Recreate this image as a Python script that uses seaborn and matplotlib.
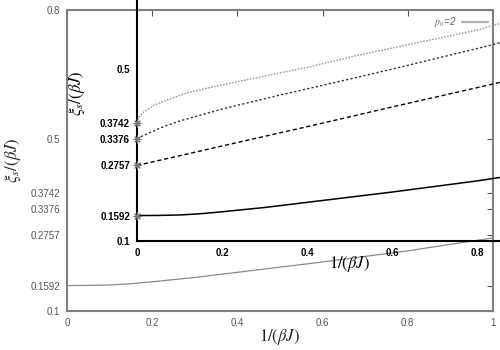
import numpy as np
import pandas as pd
import matplotlib
matplotlib.use('Agg')
import matplotlib.pyplot as plt
import seaborn as sns

# data (x = 1/(beta J))
x_p2 = [0, 0.05, 0.1, 0.15, 0.2, 0.3, 0.4, 0.5, 0.6, 0.7, 0.8, 0.9, 1.0]
y_p2 = [0.1592, 0.1595, 0.1605, 0.1635, 0.168, 0.178, 0.190, 0.202, 0.214, 0.227, 0.240, 0.255, 0.270]

x_dash = [0, 0.2, 0.4, 0.6, 0.8, 1.0]
y_dash = [0.2757, 0.321, 0.366, 0.412, 0.457, 0.503]

x_dot = [0, 0.01, 0.03, 0.06, 0.1, 0.15, 0.2, 0.336, 0.4, 0.523, 0.6, 0.8, 0.852, 1.0]
y_dot = [0.3376, 0.343, 0.352, 0.365, 0.379, 0.393, 0.407, 0.4395, 0.454, 0.482, 0.500, 0.548, 0.561, 0.596]

x_top = [0, 0.004, 0.016, 0.04, 0.071, 0.11, 0.153, 0.2, 0.336, 0.4, 0.523, 0.6, 0.8, 0.853, 1.0]
y_top = [0.3742, 0.388, 0.400, 0.416, 0.428, 0.442, 0.453, 0.463, 0.491, 0.504, 0.533, 0.549, 0.591, 0.606, 0.636]

start_x = [0, 0, 0, 0]
start_y = [0.1592, 0.2757, 0.3376, 0.3742]

x_ticks = [0, 0.2, 0.4, 0.6, 0.8, 1.0]
x_labels = ['0', '0.2', '0.4', '0.6', '0.8', '1']
y_ticks = [0.1, 0.1592, 0.2757, 0.3376, 0.3742, 0.5, 0.8]
y_labels = ['0.1', '0.1592', '0.2757', '0.3376', '0.3742', '0.5', '0.8']

sns.set_style('white')
plt.rcParams['font.family'] = ['Liberation Sans', 'DejaVu Sans']
plt.rcParams['mathtext.fontset'] = 'stix'

fig = plt.figure(figsize=(5, 3.5), dpi=100)

# main plot
ax = fig.add_axes([0.134, 0.1114, 0.852, 0.86])
sns.lineplot(x=x_p2, y=y_p2, ax=ax, color='#8a8a8a', lw=0.9, label='$p_0$=2')
ax.set_xlim(0, 1)
ax.set_ylim(0.1, 0.8)
ax.set_xticks(x_ticks)
ax.set_xticklabels(x_labels)
ax.set_yticks(y_ticks)
ax.set_yticklabels(y_labels)
ax.tick_params(direction='in', length=4, width=0.8, colors='#555555', labelsize=7,
               top=True, right=True, pad=5)
for sp in ax.spines.values():
    sp.set_color('#808080')
    sp.set_linewidth(1.5)
ax.set_xlabel(r'$1/(\beta J)$', fontsize=12, color='#222222', labelpad=-1)
ax.set_ylabel(r'$\xi_s/(\beta J)$', fontsize=12, color='#222222')
ax.yaxis.set_label_coords(-0.104, 0.5)
leg = ax.legend(loc='upper right', frameon=False, markerfirst=False, fontsize=7,
                handlelength=2.6, borderaxespad=0.15, handletextpad=0.6)
for t in leg.get_texts():
    t.set_color('#666666')
    t.set_fontstyle('italic')
leg.get_lines()[0].set_color('#b0b0b0')
leg.get_lines()[0].set_linewidth(1.6)

# inset, same scale, shifted up and right
ins = fig.add_axes([0.274, 0.3114, 0.852, 0.86], facecolor='none')
sns.lineplot(x=x_p2, y=y_p2, ax=ins, color='black', lw=1.1)
sns.lineplot(x=x_dash, y=y_dash, ax=ins, color='black', lw=1.0)
ins.lines[-1].set_dashes([3, 2])
sns.lineplot(x=x_dot, y=y_dot, ax=ins, color='#333333', lw=1.0)
ins.lines[-1].set_dashes([1.6, 1.6])
sns.lineplot(x=x_top, y=y_top, ax=ins, color='#999999', lw=1.0)
ins.lines[-1].set_dashes([1.2, 1.0])
sns.scatterplot(x=start_x, y=start_y, ax=ins, marker=(8, 2, 0), s=25,
                color='#777777', linewidth=0.8, clip_on=False, zorder=5)
ins.set_xlim(0, 1)
ins.set_ylim(0.1, 0.8)
# the inset runs past the figure edge, so only the visible ticks are labelled
ins.set_xticks(x_ticks[:-1])
ins.set_xticklabels(x_labels[:-1], fontweight='bold')
ins.set_yticks(y_ticks[:-1])
ins.set_yticklabels(y_labels[:-1], fontweight='bold')
ins.tick_params(direction='in', length=4, width=1.0, colors='black', labelsize=7, pad=5)
for sp in ins.spines.values():
    sp.set_color('black')
    sp.set_linewidth(1.5)
ins.set_xlabel(r'$1/(\beta J)$', fontsize=12, color='black', labelpad=-3)
ins.set_ylabel(r'$\xi_s/(\beta J)$', fontsize=12, color='black')
ins.yaxis.set_label_coords(-0.118, 0.49)

fig.savefig('out.png', dpi=100)
